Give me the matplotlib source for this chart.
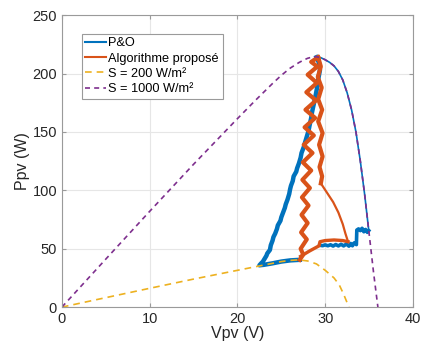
import matplotlib
matplotlib.use("Agg")
import matplotlib.pyplot as plt
from matplotlib.lines import Line2D

# ---- data ----
v_1000 = [0, 5, 10, 15, 20, 22, 24, 25, 26, 27, 27.5, 28, 28.5, 29, 29.5, 30, 30.5, 31, 31.5, 32, 32.5,
          33, 33.5, 34, 34.5, 35, 35.5, 36]
p_1000 = [0, 41.1, 82, 122.3, 161.4, 176.7, 191.5, 198.5, 204.6, 209.4, 211.4, 213.1, 214.1, 214.4, 213.6,
          211.8, 209.6, 206.6, 201.8, 194.5, 183.5, 169, 150, 125, 96, 63, 30, 0]

v_200 = [0, 5, 10, 15, 20, 22, 24, 25, 26, 27, 28, 29, 30, 31, 31.6, 32.1, 32.7]
p_200 = [0, 8.1, 16.1, 24, 31.5, 34.5, 37.5, 39, 40, 40.5, 39.5, 37, 31.5, 25, 19, 11, 0]

# P&O trajectory, pieces
po_v1 = [27.1, 26.0, 25.0, 24.0, 23.0, 22.5, 22.7, 22.9, 23.1, 23.3, 23.4, 23.7, 23.8, 24.0, 24.1, 24.3, 24.5,
         24.6, 24.9, 25.0, 25.2, 25.4, 25.5, 25.7, 25.9, 26.0, 26.1, 26.3, 26.4, 26.7, 26.8, 27.0, 27.2, 27.3,
         27.6, 27.7, 27.9, 28.1, 28.2, 28.4, 28.5, 28.7, 28.9, 29.1, 29.2, 29.4, 29.3, 29.0]
po_p1 = [40.5, 40.0, 39.0, 37.5, 36.2, 35.8, 37.5, 39, 41.5, 44, 46, 49, 53, 57, 60, 63, 67,
         70, 74, 77, 81, 85, 88, 92, 97, 101, 104, 108, 112, 116, 119, 123, 128, 132,
         138, 141, 146, 151, 155, 162, 167, 174, 181, 189, 195, 203, 209, 214]
po_v2 = [29.0, 29.5, 30.0, 30.5, 31.0, 31.5, 32.0, 32.5, 33.0, 33.5, 34.0, 34.5, 34.96]
po_p2 = [214.4, 213.6, 211.8, 209.6, 206.6, 201.8, 194.5, 183.5, 169, 150, 125, 96, 65.5]
po_v3 = [34.96, 34.8, 34.6, 34.4, 34.2, 34.0, 33.8, 33.6, 33.55, 33.3, 33.1, 32.9, 32.7, 32.4, 32.1, 31.8,
         31.5, 31.2, 30.9, 30.6, 30.3, 30.0, 29.7, 29.35]
po_p3 = [65.5, 64, 66.5, 64.5, 67.5, 65.5, 67, 66, 53.5, 55, 52.5, 54.5, 52.2, 54, 52.4, 53.8,
         52.4, 53.6, 52.3, 53.4, 52.5, 53.3, 52.6, 53]

# Proposed algorithm trajectory, pieces
pa_v1 = [27.1, 27.5, 27.2, 27.9, 27.25, 28.0, 27.3, 28.1, 27.35, 28.25, 27.4, 28.4, 27.45, 28.55, 27.55,
         28.7, 27.65, 28.85, 27.75, 28.95, 27.85, 29.05, 28.0, 29.1, 28.4, 29.2]
pa_p1 = [40.5, 45, 50, 58, 64, 72, 79, 87, 94, 102, 109, 117, 124, 132, 139,
         147, 154, 162, 169, 177, 184, 192, 199, 206, 210, 214]
pa_v2 = [29.2, 29.5, 29.15, 29.6, 29.2, 29.65, 29.2, 29.7, 29.3, 29.7, 29.35, 29.65, 29.5]
pa_p2 = [214, 206, 197, 188, 178, 169, 159, 149, 139, 129, 120, 112, 106]
pa_v3 = [29.5, 30.2, 30.9, 31.5, 32.0, 32.3, 32.6]
pa_p3 = [106, 98, 90, 81, 71, 63, 56]
pa_v4 = [32.6, 32.0, 31.0, 30.0, 29.4, 29.3, 28.2, 27.2]
pa_p4 = [56, 57, 57.5, 57, 56, 52.5, 48, 43.5]

labels = ["P&O", "Algorithme proposé", "S = 200 W/m²", "S = 1000 W/m²"]
c_blue, c_orange, c_yellow, c_purple = "#0072BD", "#D95319", "#EDB120", "#7E2F8E"

plt.rcParams['font.family'] = ['Liberation Sans', 'DejaVu Sans']

fig = plt.figure(figsize=(4.21, 3.53), dpi=100)
ax = fig.add_axes([0.147, 0.130, 0.834, 0.827])

ax.plot(po_v1, po_p1, color=c_blue, lw=3.2, solid_joinstyle='round')
ax.plot(po_v2, po_p2, color=c_blue, lw=1.2)
ax.plot(po_v3, po_p3, color=c_blue, lw=2.6)
ax.plot(pa_v1, pa_p1, color=c_orange, lw=3.0, solid_joinstyle='round')
ax.plot(pa_v2, pa_p2, color=c_orange, lw=3.0, solid_joinstyle='round')
ax.plot(pa_v3, pa_p3, color=c_orange, lw=1.6)
ax.plot(pa_v4, pa_p4, color=c_orange, lw=2.4)
ax.plot(v_200, p_200, color=c_yellow, lw=1.2, ls=(0, (4, 3)))
ax.plot(v_1000, p_1000, color=c_purple, lw=1.2, ls=(0, (3, 2.5)))

ax.set_xlim(0, 40)
ax.set_ylim(0, 250)
ax.set_xticks([0, 10, 20, 30, 40])
ax.set_yticks([0, 50, 100, 150, 200, 250])
ax.grid(True, color='#e6e6e6', lw=0.8)
ax.set_axisbelow(True)
for s in ax.spines.values():
    s.set_color('#9a9a9a')
    s.set_linewidth(0.8)
ax.tick_params(direction='in', length=3, color='#9a9a9a', labelcolor='#262626', labelsize=10.5,
               top=True, right=True)
ax.set_xlabel("Vpv (V)", fontsize=11.5, color='#262626', labelpad=0)
ax.set_ylabel("Ppv (W)", fontsize=11.5, color='#262626', labelpad=2)

handles = [Line2D([], [], color=c_blue, lw=1.5),
           Line2D([], [], color=c_orange, lw=1.5),
           Line2D([], [], color=c_yellow, lw=1.2, ls=(0, (4, 3))),
           Line2D([], [], color=c_purple, lw=1.2, ls=(0, (3, 2.5)))]
leg = ax.legend(handles, labels, loc='upper left', bbox_to_anchor=(0.056, 0.937), borderaxespad=0,
                fontsize=9.2, handlelength=1.6, handletextpad=0.2, labelspacing=0.25,
                borderpad=0.3, fancybox=False, framealpha=1, edgecolor='#9a9a9a')
leg.get_frame().set_linewidth(0.8)

fig.savefig("out.png", dpi=100)
